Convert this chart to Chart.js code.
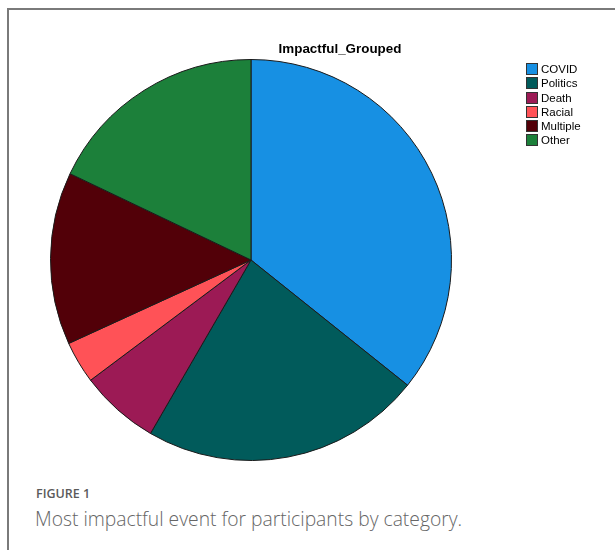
<!DOCTYPE html>
<html>
<head>
<meta charset="utf-8">
<script src="https://cdn.jsdelivr.net/npm/chart.js@4"></script>
<style>
  body { margin: 0; background: #fff; width: 615px; height: 550px; overflow: hidden; position: relative; }
  .frame { position: absolute; left: 7px; top: 8px; width: 700px; height: 700px; border-left: 2px solid #7a7a7a; border-top: 2px solid #7a7a7a; }
  #wrap { position: absolute; left: 0; top: 0; width: 615px; height: 470px; }
  .title { position: absolute; left: 240px; width: 200px; top: 41px; text-align: center; font: bold 13.4px "Liberation Sans", Arial, sans-serif; color: #000; }
  .legend { position: absolute; left: 526px; top: 62px; font: 11.5px "Liberation Sans", Arial, sans-serif; color: #000; }
  .legend div { height: 14.3px; line-height: 14px; white-space: nowrap; }
  .legend span { display: inline-block; width: 10px; height: 10px; border: 1px solid #333; vertical-align: -2px; margin-right: 3px; }
  .cap1 { position: absolute; left: 36px; top: 485px; font: 600 12.5px "Open Sans", sans-serif; color: #5a5a5a; }
  .cap2 { position: absolute; left: 35px; top: 505px; font: 300 19.3px "Open Sans", sans-serif; color: #666; }
</style>
</head>
<body>
<div class="frame"></div>
<div id="wrap"><canvas id="pie"></canvas></div>
<div class="title">Impactful_Grouped</div>
<div class="legend" id="legend"></div>
<div class="cap1">FIGURE 1</div>
<div class="cap2">Most impactful event for participants by category.</div>
<script>
const categorias = ['COVID', 'Politics', 'Death', 'Racial', 'Multiple', 'Other'];
const valores = [35.7, 22.6, 6.4, 3.4, 13.9, 17.9];
const colores = ['#1790E3', '#015B5B', '#9C1A55', '#FF5257', '#520008', '#1C803A'];

// leyenda a mano, arriba a la derecha
document.getElementById('legend').innerHTML = categorias.map((c, i) =>
  `<div><span style="background:${colores[i]}"></span>${c}</div>`
).join('');

new Chart(document.getElementById('pie'), {
  type: 'pie',
  data: {
    labels: categorias,
    datasets: [{
      data: valores,
      backgroundColor: colores,
      borderColor: '#1a1a1a',
      borderWidth: 1
    }]
  },
  options: {
    responsive: true,
    maintainAspectRatio: false,
    animation: false,
    layout: { padding: { left: 50, top: 59, right: 163, bottom: 9 } },
    plugins: {
      legend: { display: false },
      title: { display: false },
      tooltip: { enabled: false }
    }
  }
});
</script>
</body>
</html>
